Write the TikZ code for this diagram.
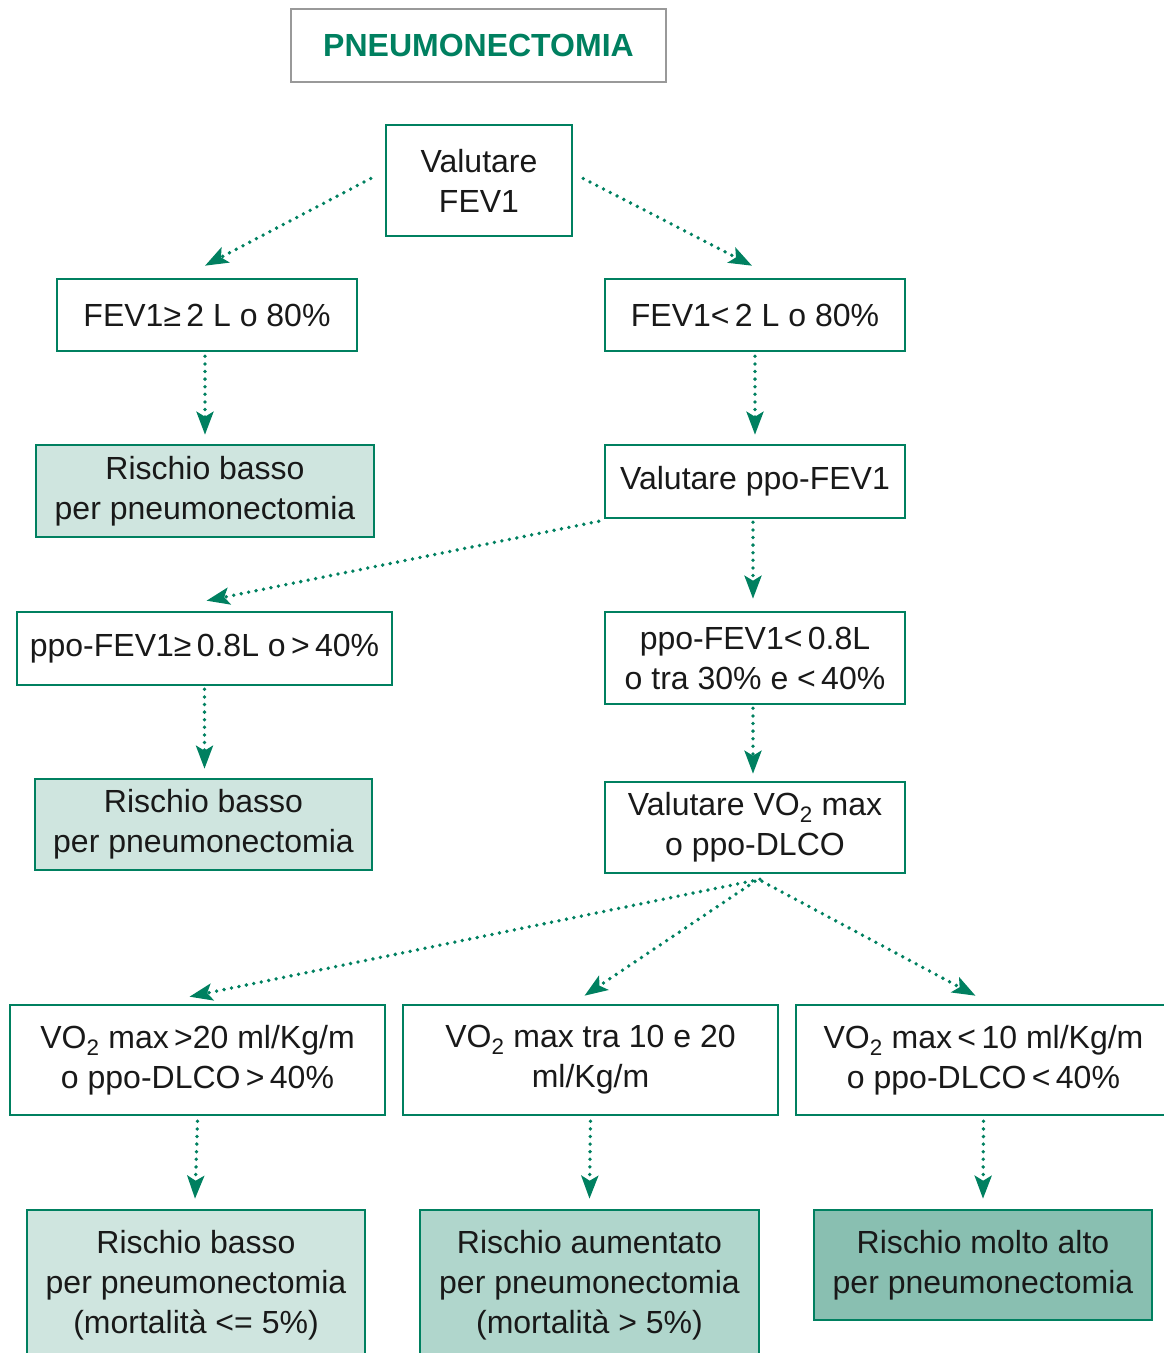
\documentclass[tikz,border=0pt]{standalone}
\usepackage{fontspec}
\setmainfont{Liberation Sans}
\usetikzlibrary{arrows.meta,positioning}
\definecolor{verde}{RGB}{0,128,96}
\definecolor{rischioA}{RGB}{207,229,223}
\definecolor{rischioB}{RGB}{176,214,204}
\definecolor{rischioC}{RGB}{137,191,177}

\begin{document}
\begin{tikzpicture}[x=1pt,y=-1pt,>={Stealth[length=23pt,width=17pt,inset=5pt]},
  box/.style={draw=verde,line width=2.6pt,fill=white,inner sep=0pt,align=center,text=black!90,font=\fontsize{32}{40}\selectfont,minimum width=300pt,minimum height=73pt},
  risk/.style={box,fill=#1},
  link/.style={->,draw=verde,line width=3.8pt,line cap=round,dash pattern=on 0pt off 7.6pt}]
  \useasboundingbox (0,0) rectangle (1163,1353);
  % titolo
  \node[box,draw=black!40,minimum width=375pt,text=verde,font=\fontsize{32}{40}\selectfont\bfseries] (t) at (478.5,45.5) {PNEUMONECTOMIA};
  \node[box,minimum width=186pt,minimum height=111pt] (v1) at (479,180.5) {Valutare\\FEV1};

  \node[box,minimum height=72pt] (a1) at (207,315) {FEV1≥\,2 L o 80\%};
  \node[box,minimum height=72pt] (b1) at (755,315) {FEV1<\,2 L o 80\%};
  \node[risk=rischioA,minimum width=338pt,minimum height=92pt] (a2) at (205,491) {Rischio basso\\per pneumonectomia};
  \node[box] (b2) at (755,481.5) {Valutare ppo-FEV1};
  \node[box,minimum width=375pt] (a3) at (204.5,648.5) {ppo-FEV1≥\,0.8L o\,>\,40\%};
  \node[box,minimum height=92pt] (b3) at (755,658) {ppo-FEV1<\,0.8L\\o tra 30\% e <\,40\%};
  \node[risk=rischioA,minimum width=337pt,minimum height=91pt] (a4) at (203.5,824.5) {Rischio basso\\per pneumonectomia};
  \node[box,minimum height=91pt] (b4) at (755,827.5) {Valutare VO\textsubscript{2} max\\o ppo-DLCO};

  \node[box,minimum width=375pt,minimum height=110pt] (c1) at (197.5,1060) {VO\textsubscript{2} max\,>20 ml/Kg/m\\o ppo-DLCO\,>\,40\%};
  \node[box,minimum width=375pt,minimum height=110pt] (c2) at (590.5,1060) {VO\textsubscript{2} max tra 10 e 20\\ml/Kg/m};
  \node[box,minimum width=375pt,minimum height=110pt] (c3) at (983.5,1060) {VO\textsubscript{2} max\,<\,10 ml/Kg/m\\o ppo-DLCO\,<\,40\%};
  \node[risk=rischioA,minimum width=338pt,minimum height=150pt] (d1) at (196,1285) {Rischio basso\\per pneumonectomia\\(mortalità <= 5\%)};
  \node[risk=rischioB,minimum width=339pt,minimum height=150pt] (d2) at (589.5,1285) {Rischio aumentato\\per pneumonectomia\\(mortalità > 5\%)};
  \node[risk=rischioC,minimum width=338pt,minimum height=110pt] (d3) at (983,1265) {Rischio molto alto\\per pneumonectomia};

  \draw[link] ([xshift=-14pt,yshift=2pt]v1.west) -- ([xshift=-2pt,yshift=12pt]a1.north);
  \draw[link] ([xshift=10pt,yshift=2pt]v1.east) -- ([xshift=-3pt,yshift=12pt]b1.north);
  \draw[link] ([xshift=-2pt,yshift=-4pt]a1.south) -- ([yshift=9pt]a2.north);
  \draw[link] ([yshift=-4pt]b1.south) -- ([yshift=9pt]b2.north);
  \draw[link] ([xshift=-5pt,yshift=-2pt]b2.south west) -- ([xshift=2pt,yshift=10pt]a3.north);
  \draw[link] ([xshift=-2pt,yshift=-3pt]b2.south) -- ([xshift=-2pt,yshift=12pt]b3.north);
  \draw[link] ([yshift=-3pt]a3.south) -- ([xshift=1pt,yshift=9pt]a4.north);
  \draw[link] ([xshift=-2pt,yshift=-3pt]b3.south) -- ([xshift=-2pt,yshift=7pt]b4.north);
  \draw[link] ([xshift=5pt,yshift=-5pt]b4.south) -- ([xshift=-8pt,yshift=7pt]c1.north);
  \draw[link] ([xshift=0pt,yshift=-7pt]b4.south) -- ([xshift=-6pt,yshift=8pt]c2.north);
  \draw[link] ([xshift=7pt,yshift=-7pt]b4.south) -- ([xshift=-8pt,yshift=8pt]c3.north);
  \draw[link] ([yshift=-5pt]c1.south) -- ([xshift=-1pt,yshift=10pt]d1.north);
  \draw[link] ([yshift=-5pt]c2.south) -- ([yshift=10pt]d2.north);
  \draw[link] ([yshift=-5pt]c3.south) -- ([yshift=10pt]d3.north);
\end{tikzpicture}
\end{document}
